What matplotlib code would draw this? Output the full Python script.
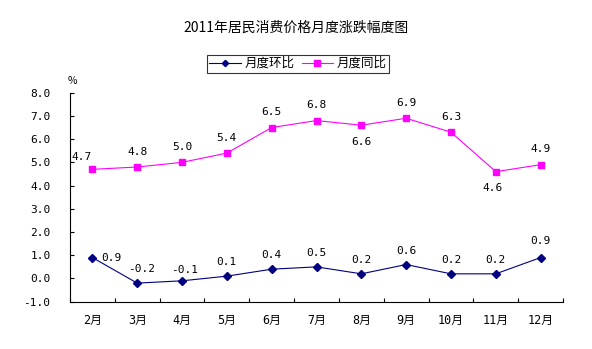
import matplotlib
matplotlib.use("Agg")
import matplotlib.pyplot as plt
import numpy as np

months = ["2月", "3月", "4月", "5月", "6月", "7月", "8月", "9月", "10月", "11月", "12月"]
mom = [0.9, -0.2, -0.1, 0.1, 0.4, 0.5, 0.2, 0.6, 0.2, 0.2, 0.9]   # 月度环比
yoy = [4.7, 4.8, 5.0, 5.4, 6.5, 6.8, 6.6, 6.9, 6.3, 4.6, 4.9]     # 月度同比
yticks = [-1.0, 0.0, 1.0, 2.0, 3.0, 4.0, 5.0, 6.0, 7.0, 8.0]

plt.rcParams['font.family'] = ['DejaVu Sans Mono', 'Noto Sans CJK SC']
CJK = ['Noto Sans CJK SC', 'DejaVu Sans']

fig = plt.figure(figsize=(5.92, 3.49), dpi=100)
ax = fig.add_axes([70/592, 1-301.7/349, (563-70)/592, (301.7-92.7)/349])

x = np.arange(len(months))
l1, = ax.plot(x, mom, color='#000080', lw=0.8, marker='D', ms=4, label='月度环比')
l2, = ax.plot(x, yoy, color='#FF00FF', lw=0.8, marker='s', ms=5, label='月度同比')

ax.set_xlim(-0.5, len(months) - 0.5)
ax.set_ylim(-1, 8)
ax.set_yticks(yticks)
ax.set_yticklabels([f"{v:.1f}" for v in yticks], fontsize=8)
ax.set_xticks(x)
ax.set_xticklabels(months, fontsize=8.5)
ax.tick_params(axis='x', length=0, pad=9)
ax.set_xticks(np.arange(len(months) + 1) - 0.5, minor=True)
ax.tick_params(axis='x', which='minor', direction='in', length=3, width=0.8)
ax.tick_params(axis='y', direction='in', length=3, width=0.8, pad=14)
for s in ['top', 'right']:
    ax.spines[s].set_visible(False)
for s in ['left', 'bottom']:
    ax.spines[s].set_linewidth(0.8)

# data labels for 环比 (offsets in points)
mom_off = [(14, 0), (3, 10), (2, 8), (0, 10), (0, 10), (0, 10), (0, 10), (0, 10), (0, 10), (0, 10), (0, 12)]
for xi, v, (dx, dy) in zip(x, mom, mom_off):
    ax.annotate(f"{v:.1f}", (xi, v), xytext=(dx, dy), textcoords='offset points',
                ha='center', va='center', fontsize=8)

yoy_off = [(-8, 9), (0, 11), (0, 11), (0, 11), (0, 11), (0, 11), (0, -12), (0, 11), (0, 11), (-2, -12), (0, 11)]
for xi, v, (dx, dy) in zip(x, yoy, yoy_off):
    ax.annotate(f"{v:.1f}", (xi, v), xytext=(dx, dy), textcoords='offset points',
                ha='center', va='center', fontsize=8)

fig.text(72/592, 1-81/349, "%", fontsize=7.5, ha='center', va='center', family=CJK)
fig.text(0.5, 1-28/349, "2011年居民消费价格月度涨跌幅度图", fontsize=10, ha='center', va='center', family=CJK)

leg = fig.legend(handles=[l1, l2], loc='center', bbox_to_anchor=(298/592, 1-63.5/349), ncol=2,
                 frameon=True, fancybox=False, edgecolor='black', prop={'family': CJK, 'size': 9},
                 handlelength=2.5, handletextpad=0.3, columnspacing=0.6, borderpad=0.2,
                 markerscale=0.8)
leg.get_frame().set_linewidth(0.8)

fig.savefig("out.png", dpi=100)
